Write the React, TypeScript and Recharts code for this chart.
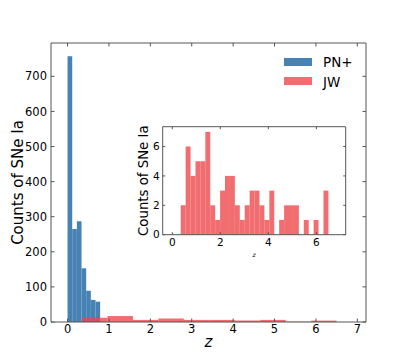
import React from 'react';
import { ComposedChart, XAxis, YAxis, ReferenceArea, Legend, Label } from 'recharts';

// PN+ sample, fine bins near z = 0
const BLUE_EDGES = [0, 0.1125, 0.225, 0.3375, 0.45, 0.5625, 0.675, 0.7875];
const BLUE_COUNTS = [757, 265, 287, 153, 89, 63, 58];

// JW sample in the main panel (10 wide bins)
const RED_EDGES = [0.35, 0.965, 1.58, 2.195, 2.81, 3.425, 4.04, 4.655, 5.27, 5.885, 6.5];
const RED_COUNTS = [12, 17, 6, 10, 6, 6, 4, 6, 1, 4];

// JW sample in the inset (30 bins)
const INSET_EDGES = [
  0.35, 0.555, 0.76, 0.965, 1.17, 1.375, 1.58, 1.785, 1.99, 2.195, 2.4,
  2.605, 2.81, 3.015, 3.22, 3.425, 3.63, 3.835, 4.04, 4.245, 4.45,
  4.655, 4.86, 5.065, 5.27, 5.475, 5.68, 5.885, 6.09, 6.295, 6.5,
];
const INSET_COUNTS = [2, 6, 4, 5, 5, 7, 2, 1, 3, 4, 4, 2, 1, 2, 3, 3, 2, 1, 3, 0, 1, 2, 2, 2, 0, 1, 0, 1, 0, 3];

const MAIN_X_TICKS = [0, 1, 2, 3, 4, 5, 6, 7];
const MAIN_Y_TICKS = [0, 100, 200, 300, 400, 500, 600, 700];
const INSET_X_TICKS = [0, 2, 4, 6];
const INSET_Y_TICKS = [0, 2, 4, 6];

const BLUE = '#4682b4';
const RED = '#ee4448';
const RED_ALPHA = 0.78;
const FRAME = '#555';
const FONT = '"DejaVu Sans", sans-serif';

const LEGEND_ITEMS = [
  { name: 'PN+', color: BLUE, opacity: 1 },
  { name: 'JW', color: RED, opacity: RED_ALPHA },
];

const toBins = (edges: number[], counts: number[]) =>
  counts.map((c, i) => ({ x0: edges[i], x1: edges[i + 1], count: c }));

const blueBins = toBins(BLUE_EDGES, BLUE_COUNTS);
const redBins = toBins(RED_EDGES, RED_COUNTS);
const insetBins = toBins(INSET_EDGES, INSET_COUNTS);

type Plot = { left: number; top: number; right: number; bottom: number };

// x tick: inward marks on bottom and top, label below
const XTick = (props: any) => {
  const { x, y, payload, plot, fs, len } = props;
  return (
    <g>
      <line x1={x} x2={x} y1={plot.bottom} y2={plot.bottom - len} stroke={FRAME} />
      <line x1={x} x2={x} y1={plot.top} y2={plot.top + len} stroke={FRAME} />
      <text x={x} y={y + 0.73 * fs} textAnchor="middle" fontSize={fs} fontFamily={FONT} fill="#000">
        {payload.value}
      </text>
    </g>
  );
};

// y tick: inward marks on left and right, label to the left
const YTick = (props: any) => {
  const { x, y, payload, plot, fs, len } = props;
  return (
    <g>
      <line x1={plot.left} x2={plot.left + len} y1={y} y2={y} stroke={FRAME} />
      <line x1={plot.right} x2={plot.right - len} y1={y} y2={y} stroke={FRAME} />
      <text x={x} y={y + 0.36 * fs} textAnchor="end" fontSize={fs} fontFamily={FONT} fill="#000">
        {payload.value}
      </text>
    </g>
  );
};

const renderLegend = () => (
  <svg width={100} height={40} style={{ display: 'block' }}>
    {LEGEND_ITEMS.map((item, i) => (
      <g key={item.name}>
        <rect x={6} y={6 + i * 19} width={28} height={8} fill={item.color} fillOpacity={item.opacity} />
        <text x={45} y={14.7 + i * 19.8} fontSize={13.5} fontFamily={FONT} fill="#000">
          {item.name}
        </text>
      </g>
    ))}
  </svg>
);

const MAIN: Plot = { left: 51, top: 43, right: 366, bottom: 322 };
const INSET: Plot = { left: 42.7, top: 16.7, right: 225.7, bottom: 124.7 };

const MainChart = () => (
  <ComposedChart
    width={407}
    height={362}
    data={blueBins}
    margin={{ top: MAIN.top, right: 407 - MAIN.right, bottom: 362 - MAIN.bottom - 20, left: MAIN.left - 40 }}
  >
    <XAxis
      type="number"
      dataKey="x0"
      domain={[-0.4, 7.21]}
      ticks={MAIN_X_TICKS}
      interval={0}
      allowDataOverflow
      height={20}
      axisLine={false}
      tickLine={false}
      tickSize={0}
      tickMargin={2.3}
      tick={<XTick plot={MAIN} fs={11.5} len={3.5} />}
    >
      <Label
        content={(p: any) => (
          <text
            x={p.viewBox.x + p.viewBox.width / 2}
            y={p.viewBox.y + 25}
            textAnchor="middle"
            fontSize={15}
            fontStyle="italic"
            fontFamily={FONT}
          >
            z
          </text>
        )}
      />
    </XAxis>
    <YAxis
      type="number"
      domain={[0, 795]}
      ticks={MAIN_Y_TICKS}
      interval={0}
      allowDataOverflow
      width={40}
      axisLine={false}
      tickLine={false}
      tickSize={0}
      tickMargin={4}
      tick={<YTick plot={MAIN} fs={11.5} len={3.5} />}
    >
      <Label
        content={(p: any) => {
          const cx = p.viewBox.x + 7;
          const cy = p.viewBox.y + p.viewBox.height / 2;
          return (
            <text
              x={cx}
              y={cy}
              transform={`rotate(-90, ${cx}, ${cy})`}
              textAnchor="middle"
              dominantBaseline="central"
              fontSize={15}
              fontFamily={FONT}
            >
              Counts of SNe Ia
            </text>
          );
        }}
      />
    </YAxis>
    {blueBins.map((b, i) => (
      <ReferenceArea
        key={`b${i}`}
        x1={b.x0}
        x2={b.x1}
        y1={0}
        y2={b.count}
        fill={BLUE}
        fillOpacity={1}
        stroke="none"
        ifOverflow="visible"
      />
    ))}
    {redBins
      .filter(b => b.count > 0)
      .map((b, i) => (
        <ReferenceArea
          key={`r${i}`}
          x1={b.x0}
          x2={b.x1}
          y1={0}
          y2={b.count}
          fill={RED}
          fillOpacity={RED_ALPHA}
          stroke="none"
          ifOverflow="visible"
        />
      ))}
    <ReferenceArea x1={-0.4} x2={7.21} y1={0} y2={795} fill="none" stroke={FRAME} strokeWidth={1} ifOverflow="visible" />
    <Legend
      content={renderLegend}
      layout="horizontal"
      verticalAlign="middle"
      align="center"
      wrapperStyle={{ left: 278, top: 52, width: 100, height: 40 }}
    />
  </ComposedChart>
);

const InsetChart = () => (
  <ComposedChart
    width={240}
    height={160}
    data={insetBins}
    margin={{ top: INSET.top, right: 240 - INSET.right, bottom: 160 - INSET.bottom - 20, left: INSET.left - 30 }}
  >
    <XAxis
      type="number"
      dataKey="x0"
      domain={[-0.4, 7.22]}
      ticks={INSET_X_TICKS}
      interval={0}
      allowDataOverflow
      height={20}
      axisLine={false}
      tickLine={false}
      tickSize={0}
      tickMargin={3.3}
      tick={<XTick plot={INSET} fs={10.5} len={2.5} />}
    >
      <Label
        content={(p: any) => (
          <text
            x={p.viewBox.x + p.viewBox.width / 2}
            y={p.viewBox.y + 22}
            textAnchor="middle"
            fontSize={6}
            fontStyle="italic"
            fontFamily={FONT}
          >
            z
          </text>
        )}
      />
    </XAxis>
    <YAxis
      type="number"
      domain={[0, 7.35]}
      ticks={INSET_Y_TICKS}
      interval={0}
      allowDataOverflow
      width={30}
      axisLine={false}
      tickLine={false}
      tickSize={0}
      tickMargin={3}
      tick={<YTick plot={INSET} fs={10.5} len={2.5} />}
    >
      <Label
        content={(p: any) => {
          const cx = p.viewBox.x + 10.6;
          const cy = p.viewBox.y + p.viewBox.height / 2;
          return (
            <text
              x={cx}
              y={cy}
              transform={`rotate(-90, ${cx}, ${cy})`}
              textAnchor="middle"
              dominantBaseline="central"
              fontSize={13.3}
              fontFamily={FONT}
            >
              Counts of SNe Ia
            </text>
          );
        }}
      />
    </YAxis>
    {insetBins
      .filter(b => b.count > 0)
      .map((b, i) => (
        <ReferenceArea
          key={`i${i}`}
          x1={b.x0}
          x2={b.x1}
          y1={0}
          y2={b.count}
          fill={RED}
          fillOpacity={RED_ALPHA}
          stroke="none"
          ifOverflow="visible"
        />
      ))}
    <ReferenceArea x1={-0.4} x2={7.22} y1={0} y2={7.35} fill="none" stroke={FRAME} strokeWidth={1} ifOverflow="visible" />
  </ComposedChart>
);

export default function App() {
  return (
    <div style={{ position: 'absolute', left: 0, top: 0, width: 407, height: 362, background: '#fff' }}>
      <MainChart />
      <div style={{ position: 'absolute', left: 120, top: 110, width: 240, height: 160 }}>
        <InsetChart />
      </div>
    </div>
  );
}
